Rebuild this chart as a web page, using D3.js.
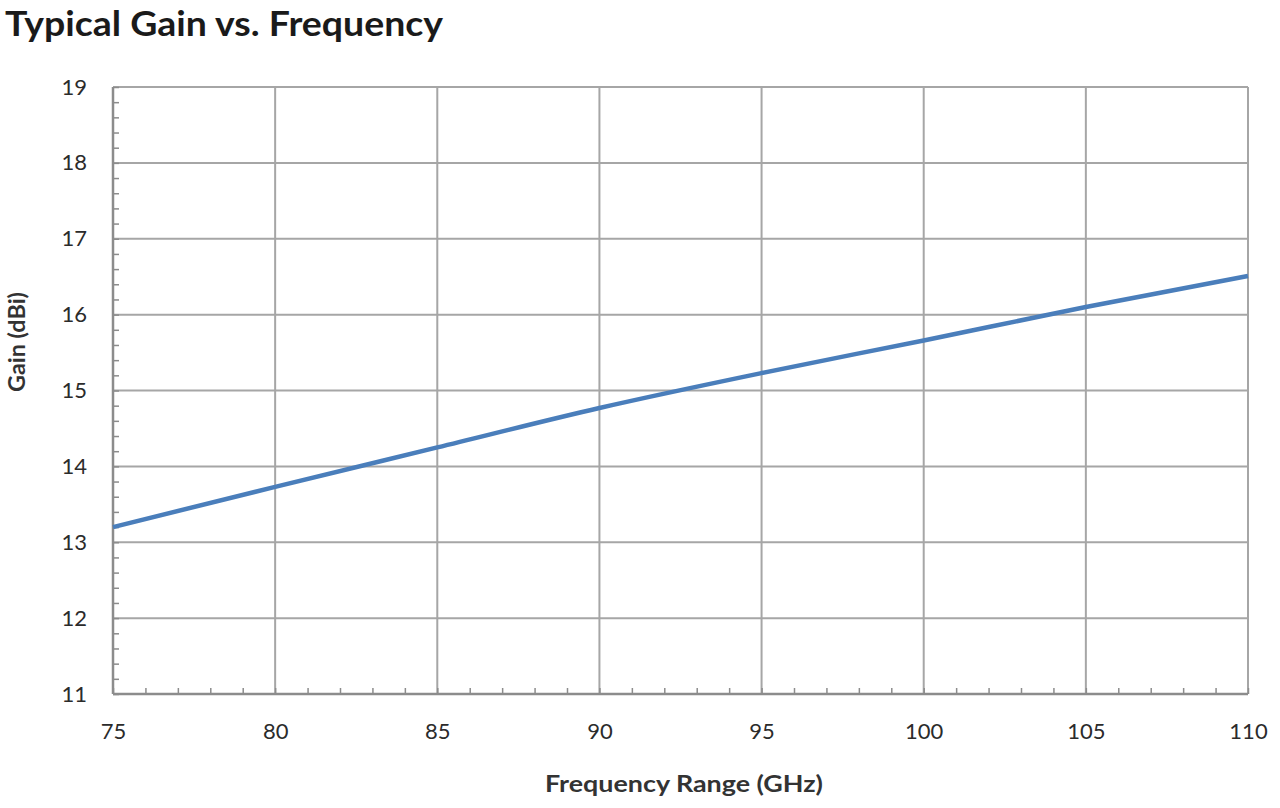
<!DOCTYPE html>
<html>
<head>
<meta charset="utf-8">
<script src="https://cdn.jsdelivr.net/npm/d3@7"></script>
<style>
  body { margin: 0; background: #fff; }
  svg { display: block; }
  text { font-family: Lato, "Open Sans", sans-serif; }
</style>
</head>
<body>
<div id="chart"></div>
<script>
// Values.
const freqGHz = [75, 80, 85, 90, 95, 100, 105, 110];
const gainDbi = [13.2, 13.73, 14.25, 14.77, 15.23, 15.66, 16.1, 16.51];
const xTicks = [75, 80, 85, 90, 95, 100, 105, 110];
const yTicks = [11, 12, 13, 14, 15, 16, 17, 18, 19];

const width = 1280, height = 808;
const margin = { top: 87, right: 32, bottom: 114, left: 113 };
const plotW = width - margin.left - margin.right;
const plotH = height - margin.top - margin.bottom;

const svg = d3.select("#chart").append("svg")
  .attr("width", width)
  .attr("height", height);

// Title.
svg.append("text")
  .attr("x", 5)
  .attr("y", 36)
  .attr("textLength", 438)
  .attr("lengthAdjust", "spacingAndGlyphs")
  .style("font-size", "35px")
  .style("font-weight", "bold")
  .style("fill", "#1a1a1a")
  .text("Typical Gain vs. Frequency");

const g = svg.append("g")
  .attr("transform", `translate(${margin.left},${margin.top})`);

const x = d3.scaleLinear().domain([75, 110]).range([0, plotW]);
const y = d3.scaleLinear().domain([11, 19]).range([plotH, 0]);

// Grid lines.
g.append("g")
  .selectAll("line")
  .data(yTicks)
  .enter()
  .append("line")
  .attr("x1", 0).attr("x2", plotW)
  .attr("y1", d => y(d)).attr("y2", d => y(d))
  .attr("stroke", "#a6a6a6")
  .attr("stroke-width", 2);

g.append("g")
  .selectAll("line")
  .data(xTicks)
  .enter()
  .append("line")
  .attr("y1", 0).attr("y2", plotH)
  .attr("x1", d => x(d)).attr("x2", d => x(d))
  .attr("stroke", "#a6a6a6")
  .attr("stroke-width", 2);

// Minor ticks (inside the plot, 5 subdivisions).
const yMinor = d3.range(11, 19.001, 0.2);
const xMinor = d3.range(75, 110.001, 1);

g.append("g")
  .call(d3.axisLeft(y).tickValues(yMinor).tickSize(-6).tickFormat(""))
  .call(s => s.select(".domain").remove())
  .selectAll("line")
  .attr("stroke", "#8c8c8c")
  .attr("stroke-width", 1.5);

g.append("g")
  .attr("transform", `translate(0,${plotH})`)
  .call(d3.axisBottom(x).tickValues(xMinor).tickSize(-6).tickFormat(""))
  .call(s => s.select(".domain").remove())
  .selectAll("line")
  .attr("stroke", "#8c8c8c")
  .attr("stroke-width", 1.5);

// Axis borders (left and bottom darker).
g.append("line")
  .attr("x1", 0).attr("x2", 0).attr("y1", 0).attr("y2", plotH)
  .attr("stroke", "#8c8c8c").attr("stroke-width", 2.5);
g.append("line")
  .attr("x1", 0).attr("x2", plotW).attr("y1", plotH).attr("y2", plotH)
  .attr("stroke", "#8c8c8c").attr("stroke-width", 2.5);

// Tick labels.
g.append("g")
  .call(d3.axisLeft(y).tickValues(yTicks).tickSize(0).tickPadding(26))
  .call(s => s.select(".domain").remove())
  .selectAll("text")
  .style("font-size", "22px")
  .style("font-family", "Lato, sans-serif")
  .style("fill", "#2b2b2b");

g.append("g")
  .attr("transform", `translate(0,${plotH})`)
  .call(d3.axisBottom(x).tickValues(xTicks).tickSize(0).tickPadding(29))
  .call(s => s.select(".domain").remove())
  .selectAll("text")
  .style("font-size", "22px")
  .style("font-family", "Lato, sans-serif")
  .style("fill", "#2b2b2b");

// Data line.
const line = d3.line()
  .x((d, i) => x(freqGHz[i]))
  .y(d => y(d))
  .curve(d3.curveMonotoneX);

g.append("path")
  .datum(gainDbi)
  .attr("d", line)
  .attr("fill", "none")
  .attr("stroke", "#4a7ebb")
  .attr("stroke-width", 4.5);

// Axis titles.
svg.append("text")
  .attr("x", 684)
  .attr("y", 792)
  .attr("text-anchor", "middle")
  .attr("textLength", 278)
  .attr("lengthAdjust", "spacingAndGlyphs")
  .style("font-size", "23px")
  .style("font-weight", "bold")
  .style("fill", "#333")
  .text("Frequency Range (GHz)");

svg.append("text")
  .attr("transform", "translate(25,342) rotate(-90)")
  .attr("text-anchor", "middle")
  .attr("textLength", 100)
  .attr("lengthAdjust", "spacingAndGlyphs")
  .style("font-size", "22px")
  .style("font-weight", "bold")
  .style("fill", "#333")
  .text("Gain (dBi)");
</script>
</body>
</html>
